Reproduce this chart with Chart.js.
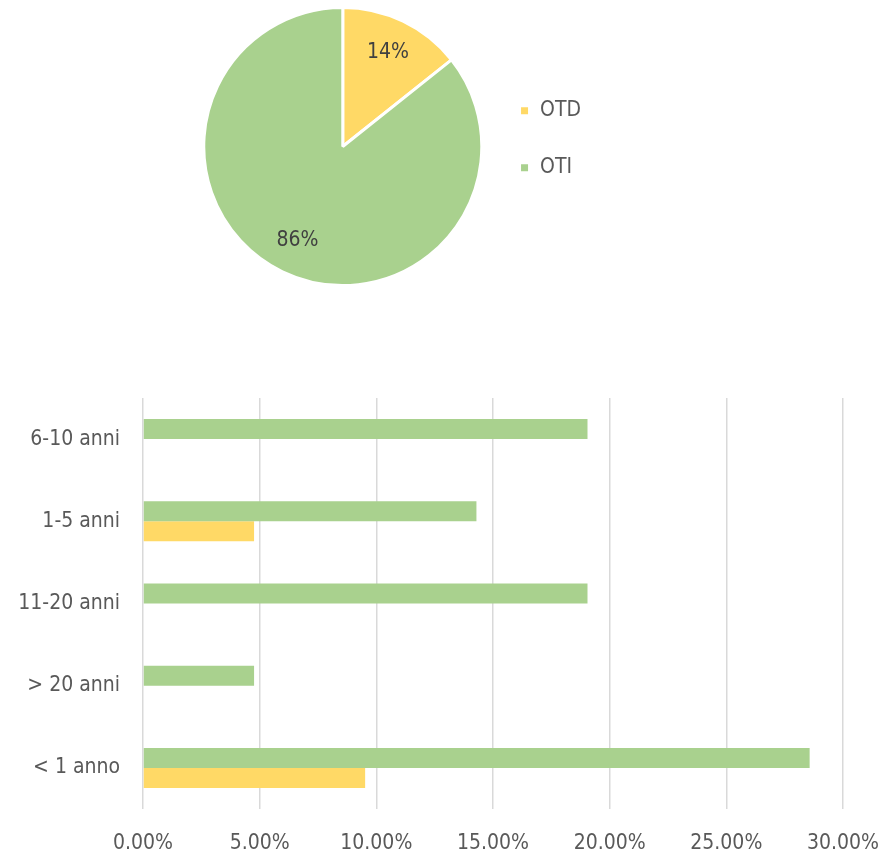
<!DOCTYPE html>
<html>
<head>
<meta charset="utf-8">
<script src="https://cdn.jsdelivr.net/npm/chart.js@4.4.0/dist/chart.umd.min.js"></script>
<style>
  html, body { margin: 0; padding: 0; background: #fff; }
  #pieBox { position: absolute; left: 202px; top: 0; width: 389px; height: 300px; }
  #barBox { position: absolute; left: 0; top: 380px; width: 893px; height: 472px; }
</style>
</head>
<body>
<div id="pieBox"><canvas id="pieChart"></canvas></div>
<div id="barBox"><canvas id="barChart"></canvas></div>
<script>
// dati torta
const pieLabels = ['OTD', 'OTI'];
const pieValues = [14.29, 85.71];

// dati barre (percentuali)
const barCategories = ['6-10 anni', '1-5 anni', '11-20 anni', '> 20 anni', '< 1 anno'];
const otiValues = [19.05, 14.29, 19.05, 4.76, 28.57];
const otdValues = [0, 4.76, 0, 0, 9.52];

const YELLOW = '#FFD966';
const GREEN = '#A9D18E';
const FONT = '"Liberation Sans Narrow", "DejaVu Sans Condensed", "Noto Sans", sans-serif';

Chart.defaults.font.family = FONT;
Chart.defaults.color = '#595959';

// etichette percentuali dentro le fette
const pieLabelPlugin = {
    id: 'pieLabels',
    afterDatasetsDraw(chart) {
        const ctx = chart.ctx;
        const meta = chart.getDatasetMeta(0);
        const total = pieValues.reduce((a, b) => a + b, 0);
        ctx.save();
        ctx.font = '21px ' + FONT;
        ctx.fillStyle = '#404040';
        ctx.textAlign = 'center';
        ctx.textBaseline = 'middle';
        meta.data.forEach((arc, i) => {
            const mid = (arc.startAngle + arc.endAngle) / 2;
            const r = arc.outerRadius * 0.75;
            const x = arc.x + Math.cos(mid) * r;
            const y = arc.y + Math.sin(mid) * r;
            ctx.fillText(Math.round(pieValues[i] / total * 100) + '%', x, y);
        });
        ctx.restore();
    }
};

new Chart(document.getElementById('pieChart'), {
    type: 'pie',
    data: {
        labels: pieLabels,
        datasets: [{
            data: pieValues,
            backgroundColor: [YELLOW, GREEN],
            borderColor: '#ffffff',
            borderWidth: 3
        }]
    },
    options: {
        responsive: true,
        maintainAspectRatio: false,
        animation: false,
        layout: { padding: { top: 6, bottom: 13, left: 0 } },
        plugins: {
            legend: {
                position: 'right',
                align: 'start',
                title: { display: true, text: ' ', font: { size: 21 }, padding: { top: 33, bottom: 0 } },
                labels: { boxWidth: 10, boxHeight: 10, padding: 36, font: { size: 21 }, color: '#595959' }
            },
            tooltip: { enabled: false }
        }
    },
    plugins: [pieLabelPlugin]
});

new Chart(document.getElementById('barChart'), {
    type: 'bar',
    data: {
        labels: barCategories,
        datasets: [
            { label: 'OTI', data: otiValues, backgroundColor: GREEN, categoryPercentage: 0.487, barPercentage: 1.0 },
            { label: 'OTD', data: otdValues, backgroundColor: YELLOW, categoryPercentage: 0.487, barPercentage: 1.0 }
        ]
    },
    options: {
        indexAxis: 'y',
        responsive: true,
        maintainAspectRatio: false,
        animation: false,
        layout: { padding: { top: 18, right: 50, left: 0, bottom: 0 } },
        plugins: { legend: { display: false }, tooltip: { enabled: false } },
        scales: {
            x: {
                min: 0,
                max: 30,
                ticks: {
                    stepSize: 5,
                    padding: 22,
                    maxRotation: 0,
                    font: { size: 21 },
                    color: '#595959',
                    callback: v => v.toFixed(2) + '%'
                },
                grid: { color: '#D9D9D9', lineWidth: 1.5, drawTicks: false },
                border: { display: false },
                afterFit(scale) {
                    scale.height = 43;
                    scale.paddingLeft = 0;
                    scale.paddingRight = 0;
                }
            },
            y: {
                ticks: { padding: 23, font: { size: 21 }, color: '#595959' },
                grid: { display: false, drawTicks: false },
                border: { display: false },
                afterFit(scale) {
                    scale.width = 143;
                    scale.paddingTop = 0;
                    scale.paddingBottom = 0;
                }
            }
        }
    }
});
</script>
</body>
</html>
